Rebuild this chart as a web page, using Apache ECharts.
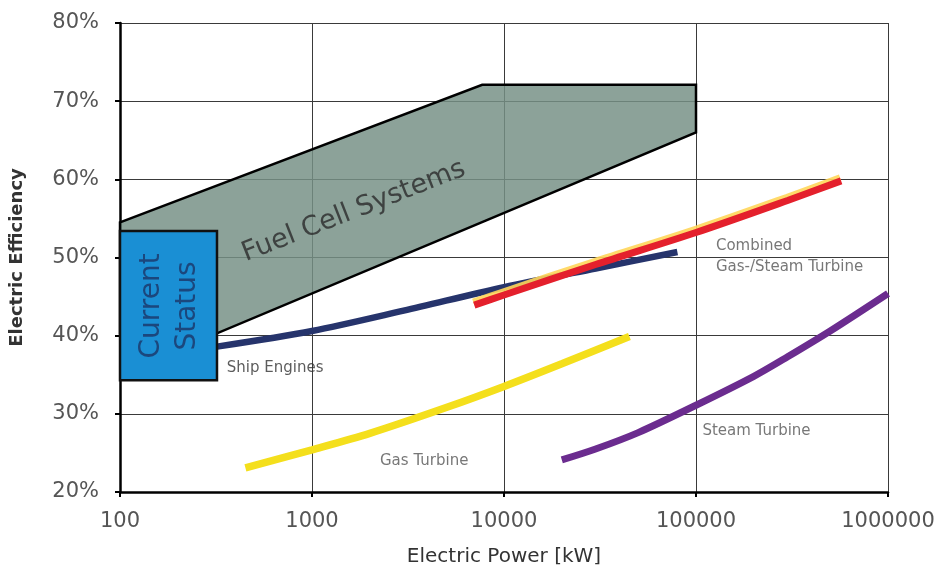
<!DOCTYPE html>
<html>
<head>
<meta charset="utf-8">
<script src="https://cdn.jsdelivr.net/npm/echarts@6/dist/echarts.min.js"></script>
<style>
html,body{margin:0;padding:0;background:#fff;}
#chart{width:939px;height:572px;}
</style>
</head>
<body>
<div id="chart"></div>
<script>
// ---- data (x = electric power kW, y = electric efficiency %) ----
const xTicks = [100, 1000, 10000, 100000, 1000000];
const yTicks = [20, 30, 40, 50, 60, 70, 80];

const fuelCellArea = [[100, 54.5], [7700, 72.1], [100000, 72.1], [100000, 66.0], [320, 40.3], [100, 40.3]];
const currentStatus = [[100, 34.3], [320, 53.4]];

const shipEngines = [[320, 38.6], [1000, 40.6], [3000, 43.2], [10000, 46.2], [30000, 48.6], [80000, 50.7]];
const combinedCycle = [[7000, 43.9], [10000, 45.2], [30000, 49.1], [100000, 53.2], [300000, 57.3], [570000, 59.8]];
const gasTurbine = [[450, 23.1], [1000, 25.4], [2000, 27.5], [5000, 30.8], [10000, 33.5], [20000, 36.4], [45000, 39.9]];
const steamTurbine = [[20000, 24.1], [30000, 25.5], [50000, 27.6], [100000, 31.1], [200000, 34.8], [300000, 37.3], [500000, 40.6], [1000000, 45.4]];

const annotations = [
  { text: 'Fuel Cell Systems', at: [1650, 55.9], kind: 'title' },
  { text: 'Current\nStatus', at: [182, 43.8], kind: 'box' },
  { text: 'Ship Engines', at: [360, 35.8], kind: 'dark' },
  { text: 'Gas Turbine', at: [2260, 23.9], kind: 'note' },
  { text: 'Steam Turbine', at: [108000, 27.8], kind: 'note' },
  { text: 'Combined\nGas-/Steam Turbine', at: [127000, 50.1], kind: 'note' }
];

const chart = echarts.init(document.getElementById('chart'));

function lineSeries(name, data, color, width, extra) {
  return Object.assign({
    name: name, type: 'line', data: data, smooth: 0.3, symbol: 'none', z: 5,
    lineStyle: { color: color, width: width, cap: 'butt' }
  }, extra || {});
}

const labelStyles = {
  title: { fontSize: 27, color: '#2a2a2a', fontFamily: 'DejaVu Sans', rotate: 21.4, position: 'inside', align: 'center', verticalAlign: 'middle' },
  box: { fontSize: 28, color: '#1c3566', fontFamily: 'DejaVu Sans', rotate: 90, position: 'inside', align: 'center', verticalAlign: 'middle', lineHeight: 36 },
  note: { fontSize: 15, color: '#555', fontFamily: 'DejaVu Sans', position: 'inside', align: 'left', verticalAlign: 'middle', lineHeight: 21 },
  dark: { fontSize: 15, color: '#333', fontFamily: 'DejaVu Sans', position: 'inside', align: 'left', verticalAlign: 'middle' }
};

const option = {
  backgroundColor: '#fff',
  animation: false,
  grid: { left: 120, right: 51, top: 23, bottom: 78 },
  xAxis: {
    type: 'log', logBase: 10, min: xTicks[0], max: xTicks[xTicks.length - 1],
    name: 'Electric Power [kW]', nameLocation: 'middle', nameGap: 55,
    nameTextStyle: { fontSize: 20, color: '#333', fontFamily: 'DejaVu Sans' },
    axisLine: { show: true, lineStyle: { color: '#000', width: 2.5 } },
    axisTick: { show: true, inside: false, length: 5, lineStyle: { color: '#000', width: 2 } },
    axisLabel: { fontSize: 21, color: '#555', fontFamily: 'DejaVu Sans', margin: 19,
      formatter: v => String(Math.round(v)) },
    splitLine: { show: true, lineStyle: { color: '#3a3a3a', width: 1 } },
    minorTick: { show: false }
  },
  yAxis: {
    type: 'value', min: yTicks[0], max: yTicks[yTicks.length - 1], interval: 10,
    name: 'Electric Efficiency', nameLocation: 'middle', nameGap: 94,
    nameTextStyle: { fontSize: 18, color: '#333', fontWeight: 'bold', fontFamily: 'DejaVu Sans' },
    axisLine: { show: true, lineStyle: { color: '#000', width: 2.5 } },
    axisTick: { show: true, inside: false, length: 5, lineStyle: { color: '#000', width: 2 } },
    axisLabel: { fontSize: 21, color: '#555', fontFamily: 'DejaVu Sans', margin: 21, formatter: '{value}%' },
    splitLine: { show: true, lineStyle: { color: '#3a3a3a', width: 1 } }
  },
  series: [
    {
      name: 'Fuel Cell Systems', type: 'custom', z: 2, data: [0],
      renderItem: function (params, api) {
        const pts = fuelCellArea.map(p => api.coord(p));
        return { type: 'polygon', shape: { points: pts },
          style: { fill: 'rgba(118,144,134,0.84)', stroke: '#000', lineWidth: 2.5, lineJoin: 'miter' } };
      }
    },
    lineSeries('Ship Engines', shipEngines, '#26346c', 6.5),
    lineSeries('Gas Turbine', gasTurbine, '#f4df1c', 7.5),
    lineSeries('Steam Turbine', steamTurbine, '#6b2c8f', 7),
    lineSeries('Combined Gas-/Steam Turbine', combinedCycle, '#e4202c', 7, {
      z: 6,
      lineStyle: { color: '#e4202c', width: 7, shadowColor: 'rgba(255,214,90,0.9)', shadowBlur: 0, shadowOffsetX: -1, shadowOffsetY: -3 }
    }),
    {
      name: 'Current Status', type: 'custom', z: 7, data: [0],
      renderItem: function (params, api) {
        const a = api.coord(currentStatus[0]);
        const b = api.coord(currentStatus[1]);
        return { type: 'rect',
          shape: { x: Math.min(a[0], b[0]), y: Math.min(a[1], b[1]), width: Math.abs(b[0] - a[0]), height: Math.abs(b[1] - a[1]) },
          style: { fill: '#1a8fd4', stroke: '#111', lineWidth: 2.5 } };
      }
    },
    {
      name: 'labels', type: 'scatter', z: 9, symbolSize: 0, silent: true,
      data: annotations.map(a => ({ value: a.at, name: a.text, label: Object.assign({ show: true, formatter: a.text }, labelStyles[a.kind]) }))
    }
  ]
};
chart.setOption(option);
</script>
</body>
</html>
